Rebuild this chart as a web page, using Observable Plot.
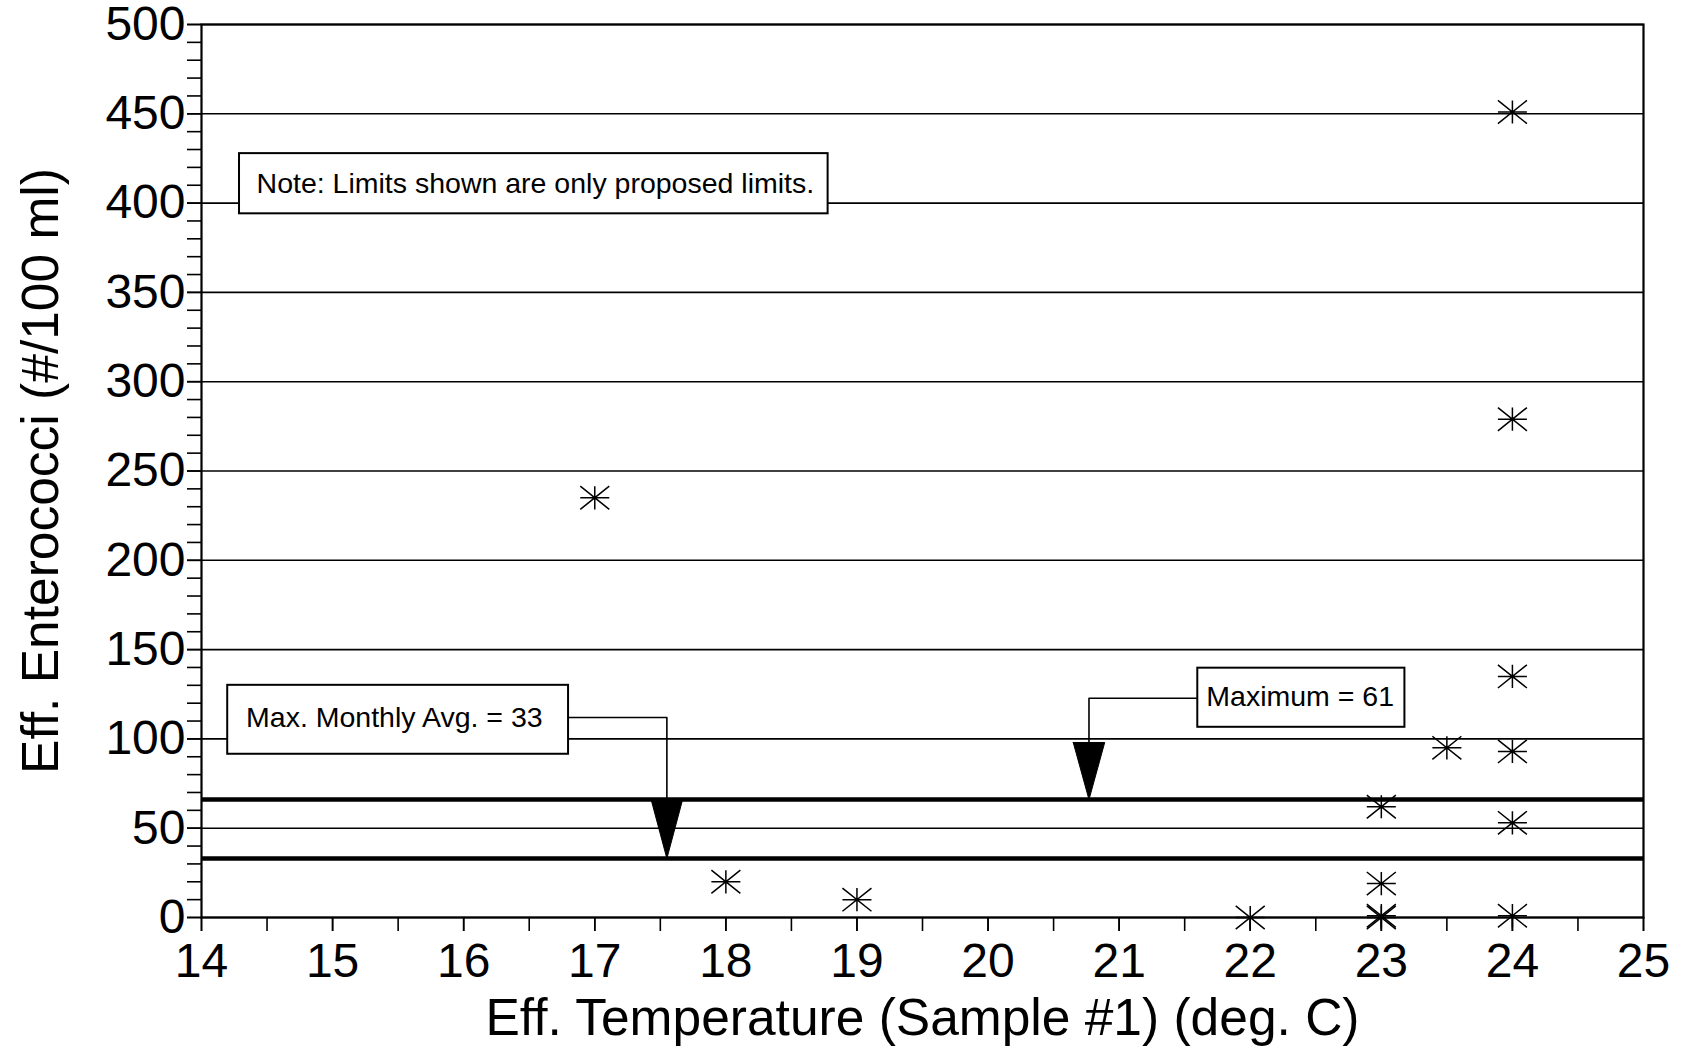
<!DOCTYPE html>
<html>
<head>
<meta charset="utf-8">
<script src="https://cdn.jsdelivr.net/npm/d3@7"></script>
<script src="https://cdn.jsdelivr.net/npm/@observablehq/plot@0.6"></script>
<style>
  html, body { margin: 0; padding: 0; background: #fff; }
  #chart { width: 1686px; height: 1048px; }
</style>
</head>
<body>
<div id="chart"></div>
<script>
// ---- data ----
const temperature = [17, 18, 19, 22, 23, 23, 23, 23, 23.5, 24, 24, 24, 24, 24, 24];
const enterococci = [235, 20, 10, 0, 62, 19, 1, 0, 95, 451, 279, 135, 93, 53, 1];
const limitValues = [33, 66];
const limitLabels = ["Max. Monthly Avg. = 33", "Maximum = 61"];
const noteText = "Note: Limits shown are only proposed limits.";
const xTickValues = [14, 15, 16, 17, 18, 19, 20, 21, 22, 23, 24, 25];
const yTickValues = [0, 50, 100, 150, 200, 250, 300, 350, 400, 450, 500];
const xTitle = "Eff. Temperature (Sample #1) (deg. C)";
const yTitle = "Eff. Enterococci (#/100 ml)";

// ---- annotation layout (data coordinates) ----
const boxes = [
  {x1: 14.29, x2: 18.78, y1: 394, y2: 427.7, tx: 14.42, ty: 411, text: noteText},
  {x1: 14.2, x2: 16.8, y1: 91.4, y2: 130, tx: 14.34, ty: 112, text: limitLabels[0]},
  {x1: 21.6, x2: 23.18, y1: 106.5, y2: 139.6, tx: 21.665, ty: 123.5, text: limitLabels[1]}
];
const leaders = [
  {id: "a", x: 16.8, y: 112}, {id: "a", x: 17.55, y: 112}, {id: "a", x: 17.55, y: limitValues[1]},
  {id: "b", x: 21.6, y: 122.8}, {id: "b", x: 20.77, y: 122.8}, {id: "b", x: 20.77, y: 98}
];
const arrows = [
  {id: "a", x: 17.43, y: limitValues[1]}, {id: "a", x: 17.67, y: limitValues[1]}, {id: "a", x: 17.55, y: limitValues[0]}, {id: "a", x: 17.43, y: limitValues[1]},
  {id: "b", x: 20.65, y: 98}, {id: "b", x: 20.89, y: 98}, {id: "b", x: 20.77, y: limitValues[1]}, {id: "b", x: 20.65, y: 98}
];

const points = temperature.map((t, i) => ({x: t, y: enterococci[i]}));

const asterisk = {
  draw(ctx, size) {
    const r = Math.sqrt(size / Math.PI);
    const w = r, h = r * 0.8;
    ctx.moveTo(-w, 0); ctx.lineTo(w, 0);
    ctx.moveTo(0, -h); ctx.lineTo(0, h);
    ctx.moveTo(-w, -h); ctx.lineTo(w, h);
    ctx.moveTo(-w, h); ctx.lineTo(w, -h);
  }
};

const xMinor = d3.range(14, 25.001, 0.5);
const yMinor = d3.range(0, 500.001, 10);

const chart = Plot.plot({
  width: 1686,
  height: 1048,
  marginLeft: 201,
  marginRight: 43,
  marginTop: 24,
  marginBottom: 131,
  style: {fontFamily: "'Liberation Sans', Arial, Helvetica, sans-serif", color: "black", background: "white"},
  x: {domain: [14, 25], axis: null},
  y: {domain: [0, 500], axis: null},
  marks: [
    Plot.ruleY(yTickValues, {stroke: "black", strokeWidth: 1.6}),
    Plot.ruleY(limitValues, {stroke: "black", strokeWidth: 4.5}),
    Plot.frame({stroke: "black", strokeWidth: 2.2}),
    Plot.axisY(yMinor, {tickSize: 14, strokeWidth: 1.6, tickFormat: () => ""}),
    Plot.axisY(yTickValues, {tickSize: 14, strokeWidth: 1.6, tickPadding: 2, fontSize: 48, tickFormat: d3.format("d"), label: null}),
    Plot.axisX(xMinor, {tickSize: 14, strokeWidth: 1.6, tickFormat: () => ""}),
    Plot.axisX(xTickValues, {tickSize: 14, strokeWidth: 1.6, tickPadding: 11, fontSize: 48, tickFormat: d3.format("d"), label: null}),
    Plot.line(leaders, {x: "x", y: "y", z: "id", stroke: "black", strokeWidth: 1.6}),
    Plot.line(arrows, {x: "x", y: "y", z: "id", stroke: "black", strokeWidth: 1, fill: "black"}),
    Plot.rect(boxes, {x1: "x1", x2: "x2", y1: "y1", y2: "y2", fill: "white", stroke: "black", strokeWidth: 2}),
    Plot.text(boxes, {x: "tx", y: "ty", text: "text", textAnchor: "start", fontSize: 28.5, fill: "black"}),
    Plot.dot(points, {x: "x", y: "y", symbol: asterisk, r: 14.5, stroke: "black", strokeWidth: 1.5, fill: "none"}),
    Plot.text([xTitle], {frameAnchor: "bottom", lineAnchor: "middle", textAnchor: "middle", dy: 101, fontSize: 51.5, fill: "black"}),
    Plot.text([yTitle], {frameAnchor: "left", lineAnchor: "middle", textAnchor: "middle", dx: -160, rotate: -90, fontSize: 51.5, fill: "black"})
  ]
});
document.getElementById("chart").appendChild(chart);
</script>
</body>
</html>
